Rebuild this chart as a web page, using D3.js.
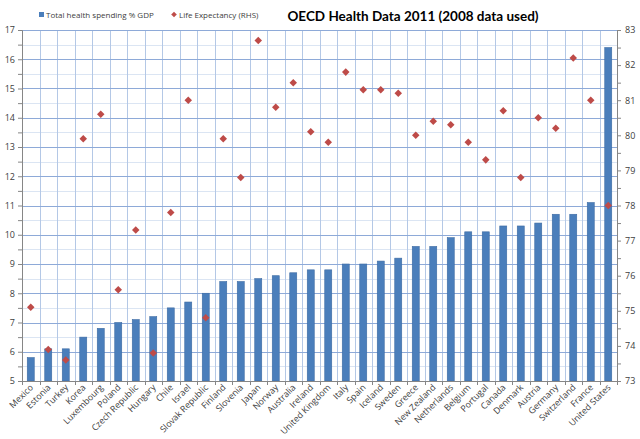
<!DOCTYPE html>
<html>
<head>
<meta charset="utf-8">
<script src="https://cdn.jsdelivr.net/npm/d3@7"></script>
<style>
  body { margin: 0; background: #fff; }
  svg { display: block; font-family: "Open Sans", "Liberation Sans", sans-serif; }
</style>
</head>
<body>
<script>
// categories and the two series
var countries = ["Mexico", "Estonia", "Turkey", "Korea", "Luxembourg", "Poland", "Czech Republic",
  "Hungary", "Chile", "Israel", "Slovak Republic", "Finland", "Slovenia", "Japan", "Norway",
  "Australia", "Ireland", "United Kingdom", "Italy", "Spain", "Iceland", "Sweden", "Greece",
  "New Zealand", "Netherlands", "Belgium", "Portugal", "Canada", "Denmark", "Austria",
  "Germany", "Switzerland", "France", "United States"];
var spending = [5.8, 6.1, 6.1, 6.5, 6.8, 7.0, 7.1, 7.2, 7.5, 7.7, 8.0, 8.4, 8.4, 8.5, 8.6,
  8.7, 8.8, 8.8, 9.0, 9.0, 9.1, 9.2, 9.6, 9.6, 9.9, 10.1, 10.1, 10.3, 10.3, 10.4,
  10.7, 10.7, 11.1, 16.4];
var lifeExp = [75.1, 73.9, 73.6, 79.9, 80.6, 75.6, 77.3, 73.8, 77.8, 81.0, 74.8, 79.9, 78.8,
  82.7, 80.8, 81.5, 80.1, 79.8, 81.8, 81.3, 81.3, 81.2, 80.0, 80.4, 80.3, 79.8, 79.3,
  80.7, 78.8, 80.5, 80.2, 82.2, 81.0, 78.0];
var leftTicks = [5, 6, 7, 8, 9, 10, 11, 12, 13, 14, 15, 16, 17];
var rightTicks = [73, 74, 75, 76, 77, 78, 79, 80, 81, 82, 83];

var W = 640, H = 439;
var plotL = 22, plotR = 617, plotT = 30, plotB = 381;

var svg = d3.select("body").append("svg")
  .attr("width", W).attr("height", H);

var x = d3.scaleBand().domain(countries).range([plotL, plotR]).paddingInner(0.6).paddingOuter(0.3);
var band = d3.scaleBand().domain(countries).range([plotL, plotR]);
var y = d3.scaleLinear().domain([5, 17]).range([plotB, plotT]);
var y2 = d3.scaleLinear().domain([73, 83]).range([plotB, plotT]);

// minor gridlines every 0.5
var halves = d3.range(5.5, 17, 1);
svg.append("g").selectAll("line").data(halves).enter().append("line")
  .attr("x1", plotL).attr("x2", plotR)
  .attr("y1", function(d) { return Math.round(y(d)) + 0.5; })
  .attr("y2", function(d) { return Math.round(y(d)) + 0.5; })
  .attr("stroke", "#dbe5f3");

// vertical gridlines at category boundaries
svg.append("g").selectAll("line").data(countries.slice(1)).enter().append("line")
  .attr("x1", function(d) { return Math.round(band(d)) + 0.5; })
  .attr("x2", function(d) { return Math.round(band(d)) + 0.5; })
  .attr("y1", plotT).attr("y2", plotB)
  .attr("stroke", "#b4c8e6");

// major gridlines
svg.append("g").selectAll("line").data(leftTicks.slice(1)).enter().append("line")
  .attr("x1", plotL).attr("x2", plotR)
  .attr("y1", function(d) { return Math.round(y(d)) + 0.5; })
  .attr("y2", function(d) { return Math.round(y(d)) + 0.5; })
  .attr("stroke", "#8eaad8");

// bars
svg.append("g").selectAll("rect").data(countries).enter().append("rect")
  .attr("x", function(d) { return x(d); })
  .attr("width", x.bandwidth())
  .attr("y", function(d, i) { return y(spending[i]); })
  .attr("height", function(d, i) { return plotB - y(spending[i]); })
  .attr("fill", "#4a7ebb")
  .attr("stroke", "#3d6ba3").attr("stroke-width", 0.6);

// diamonds
var diamond = d3.symbol().type(d3.symbolDiamond2).size(36);
svg.append("g").selectAll("path").data(countries).enter().append("path")
  .attr("d", diamond)
  .attr("transform", function(d, i) {
    return "translate(" + (band(d) + band.bandwidth() / 2) + "," + y2(lifeExp[i]) + ")";
  })
  .attr("fill", "#be4b48");

// axes
var axisColor = "#868686", labelColor = "#404040";

var yAxis = d3.axisLeft(y).tickValues(d3.range(5, 17.01, 0.5)).tickSize(4)
  .tickFormat(function(d) { return d % 1 === 0 ? d : ""; }).tickPadding(3);
var gl = svg.append("g").attr("transform", "translate(" + plotL + ",0)").call(yAxis);

var yAxis2 = d3.axisRight(y2).tickValues(d3.range(73, 83.01, 0.5)).tickSize(4)
  .tickFormat(function(d) { return d % 1 === 0 ? d : ""; }).tickPadding(4);
var gr = svg.append("g").attr("transform", "translate(" + plotR + ",0)").call(yAxis2);

var xAxis = d3.axisBottom(band).tickSize(0).tickFormat("");
var gx = svg.append("g").attr("transform", "translate(0," + plotB + ")").call(xAxis);
gx.selectAll(".tick").remove();
gx.selectAll("line.bd").data(d3.range(0, countries.length + 1)).enter().append("line")
  .attr("class", "bd")
  .attr("x1", function(i) { return Math.round(plotL + i * band.step()) + 0.5; })
  .attr("x2", function(i) { return Math.round(plotL + i * band.step()) + 0.5; })
  .attr("y1", 0).attr("y2", 4).attr("stroke", axisColor);

[gl, gr, gx].forEach(function(g) {
  g.select(".domain").attr("stroke", axisColor);
  g.selectAll(".tick line").attr("stroke", axisColor);
  g.selectAll("text").attr("fill", labelColor).style("font-size", "9px")
    .style("font-family", "'Open Sans', 'Liberation Sans', sans-serif");
});

// rotated category labels
svg.append("g").selectAll("text").data(countries).enter().append("text")
  .attr("transform", function(d) {
    return "translate(" + (band(d) + band.bandwidth() / 2 + 3) + "," + (plotB + 7) + ") rotate(-45)";
  })
  .attr("text-anchor", "end")
  .attr("fill", labelColor)
  .style("font-size", "8.8px")
  .text(function(d) { return d; });

// legend
svg.append("rect").attr("x", 39).attr("y", 12).attr("width", 5).attr("height", 5).attr("fill", "#4a7ebb");
svg.append("text").attr("x", 46).attr("y", 17.5).attr("fill", labelColor)
  .style("font-size", "8px").text("Total health spending % GDP");
svg.append("path").attr("d", d3.symbol().type(d3.symbolDiamond2).size(20))
  .attr("transform", "translate(174,14.5)").attr("fill", "#be4b48");
svg.append("text").attr("x", 179).attr("y", 17.5).attr("fill", labelColor)
  .style("font-size", "8px").text("Life Expectancy (RHS)");

// title
svg.append("text").attr("x", 413).attr("y", 21).attr("text-anchor", "middle")
  .attr("fill", "#000").style("font-size", "13.5px").style("font-weight", "bold")
  .style("font-family", "Lato, 'Open Sans', sans-serif")
  .text("OECD Health Data 2011 (2008 data used)");
</script>
</body>
</html>
